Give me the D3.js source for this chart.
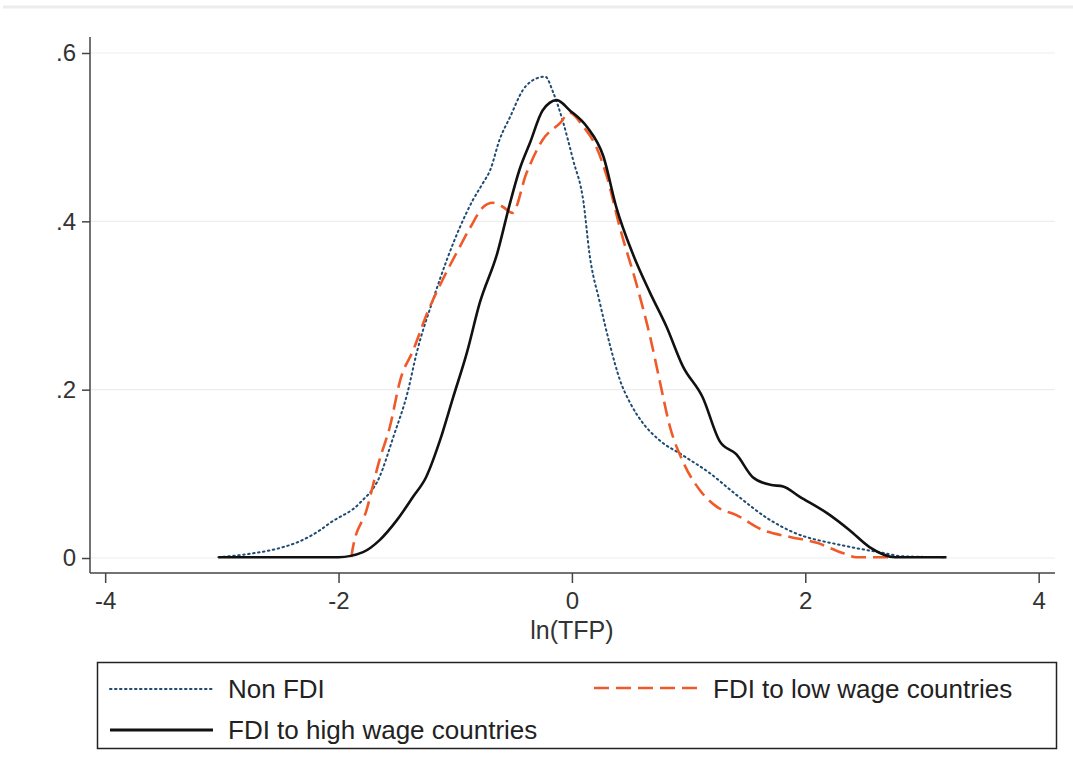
<!DOCTYPE html>
<html><head><meta charset="utf-8">
<script src="https://cdn.jsdelivr.net/npm/d3@7"></script>
<style>
html,body{margin:0;padding:0;background:#fff;}
svg{display:block;font-family:Arial,"Liberation Sans",Helvetica,sans-serif;}
</style></head>
<body>
<script>
// ---- data ----
const xTicks = [-4, -2, 0, 2, 4];
const xTickLabels = ["-4", "-2", "0", "2", "4"];
const yTicks = [0, 0.2, 0.4, 0.6];
const yTickLabels = ["0", ".2", ".4", ".6"];
const xTitle = "ln(TFP)";
const seriesNames = ["Non FDI", "FDI to low wage countries", "FDI to high wage countries"];

const nonFdiX = [-3.03,-2.76,-2.5,-2.33,-2.16,-2.07,-1.82,-1.65,-1.53,-1.41,-1.33,-1.19,-1.07,-0.96,-0.85,-0.76,-0.70,-0.62,-0.53,-0.42,-0.30,-0.23,-0.16,-0.08,0.01,0.10,0.15,0.24,0.33,0.41,0.50,0.61,0.75,0.95,1.18,1.41,1.70,1.89,2.32,2.67,2.84,3.21];
const nonFdiY = [0.001,0.005,0.012,0.02,0.033,0.042,0.065,0.096,0.144,0.196,0.244,0.307,0.355,0.393,0.425,0.446,0.461,0.497,0.524,0.556,0.570,0.572,0.553,0.52,0.473,0.422,0.362,0.303,0.251,0.212,0.184,0.160,0.140,0.122,0.101,0.075,0.045,0.031,0.015,0.006,0.002,0.001];

const lowWageX = [-1.89,-1.88,-1.76,-1.65,-1.56,-1.47,-1.36,-1.24,-1.11,-0.96,-0.87,-0.76,-0.68,-0.59,-0.51,-0.39,-0.25,-0.10,-0.02,0.10,0.21,0.30,0.41,0.56,0.67,0.75,0.84,0.95,1.10,1.24,1.41,1.64,1.87,2.10,2.32,2.44,2.75];
const lowWageY = [0.001,0.01,0.057,0.116,0.156,0.212,0.247,0.291,0.330,0.37,0.393,0.417,0.422,0.417,0.41,0.457,0.497,0.517,0.529,0.512,0.488,0.453,0.393,0.322,0.263,0.212,0.156,0.115,0.08,0.061,0.051,0.033,0.025,0.018,0.006,0.001,0.001];

const highWageX = [-3.03,-2.0,-1.79,-1.65,-1.5,-1.36,-1.25,-1.13,-1.02,-0.9,-0.79,-0.64,-0.53,-0.45,-0.36,-0.25,-0.13,-0.02,0.13,0.27,0.38,0.52,0.67,0.81,0.95,1.12,1.27,1.41,1.55,1.70,1.81,1.95,2.19,2.38,2.55,2.77,3.21];
const highWageY = [0.001,0.001,0.007,0.021,0.045,0.073,0.096,0.14,0.19,0.244,0.303,0.362,0.422,0.461,0.493,0.532,0.544,0.532,0.512,0.477,0.417,0.362,0.315,0.275,0.228,0.191,0.138,0.123,0.096,0.087,0.085,0.073,0.053,0.033,0.013,0.001,0.001];

// ---- drawing ----
const W = 1073, H = 780;
const svg = d3.select("body").append("svg").attr("width", W).attr("height", H);

// top light border
svg.append("line").attr("x1", 3).attr("x2", W).attr("y1", 7).attr("y2", 7)
  .attr("stroke", "#ececec").attr("stroke-width", 3);

const x = d3.scaleLinear().domain([-4.13, 4.14]).range([90, 1055]);
const y = d3.scaleLinear().domain([-0.0178, 0.619]).range([573, 37]);

// gridlines
svg.append("g").selectAll("line").data(yTicks).join("line")
  .attr("x1", 90).attr("x2", 1055)
  .attr("y1", d => y(d)).attr("y2", d => y(d))
  .attr("stroke", "#ededed").attr("stroke-width", 1.2);

// y axis
const yAxis = d3.axisLeft(y).tickValues(yTicks).tickSize(8).tickPadding(6)
  .tickFormat((d, i) => yTickLabels[i]);
const gy = svg.append("g").attr("transform", "translate(90,0)").call(yAxis);
gy.select(".domain").attr("stroke", "#444").attr("stroke-width", 1.5).attr("d", `M0,${y.range()[1]}V${y.range()[0]}`);
gy.selectAll(".tick line").attr("stroke", "#444").attr("stroke-width", 1.5);
gy.selectAll(".tick text").attr("font-size", 24).attr("fill", "#333").attr("font-family", "Arial,'Liberation Sans',sans-serif");

// x axis
const xAxis = d3.axisBottom(x).tickValues(xTicks).tickSize(10).tickPadding(9)
  .tickFormat((d, i) => xTickLabels[i]);
const gx = svg.append("g").attr("transform", "translate(0,573)").call(xAxis);
gx.select(".domain").attr("stroke", "#444").attr("stroke-width", 1.5).attr("d", `M${x.range()[0]},0H${x.range()[1]}`);
gx.selectAll(".tick line").attr("stroke", "#444").attr("stroke-width", 1.5);
gx.selectAll(".tick text").attr("font-size", 24).attr("fill", "#333").attr("font-family", "Arial,'Liberation Sans',sans-serif");

svg.append("text").attr("x", x(0)).attr("y", 639).attr("text-anchor", "middle")
  .attr("font-size", 25).attr("fill", "#333").text(xTitle);

// series
const line = d3.line().x(d => x(d[0])).y(d => y(d[1])).curve(d3.curveMonotoneX);
const zip = (a, b) => a.map((v, i) => [v, b[i]]);

const styles = [
  {stroke: "#1f4a72", width: 2, dash: "1.5,3.5", cap: "round"},
  {stroke: "#f05a28", width: 2.6, dash: "15,7", cap: "butt"},
  {stroke: "#111111", width: 2.6, dash: null, cap: "butt"}
];
const series = [zip(nonFdiX, nonFdiY), zip(lowWageX, lowWageY), zip(highWageX, highWageY)];

series.forEach((s, i) => {
  const st = styles[i];
  svg.append("path").datum(s).attr("d", line)
    .attr("fill", "none").attr("stroke", st.stroke).attr("stroke-width", st.width)
    .attr("stroke-dasharray", st.dash).attr("stroke-linecap", st.cap)
    .attr("stroke-linejoin", "round");
});

// legend
svg.append("rect").attr("x", 97.5).attr("y", 662.5).attr("width", 959).attr("height", 86)
  .attr("fill", "none").attr("stroke", "#222").attr("stroke-width", 1.5);

const legendPos = [
  {lx: 110, ly: 689, tx: 228, ty: 698},
  {lx: 594, ly: 688, tx: 713, ty: 698},
  {lx: 110, ly: 730, tx: 228, ty: 739}
];
legendPos.forEach((p, i) => {
  const st = styles[i];
  svg.append("line").attr("x1", p.lx).attr("x2", p.lx + 103).attr("y1", p.ly).attr("y2", p.ly)
    .attr("stroke", st.stroke).attr("stroke-width", st.width + (i === 2 ? 0.6 : 0))
    .attr("stroke-dasharray", st.dash).attr("stroke-linecap", st.cap);
  svg.append("text").attr("x", p.tx).attr("y", p.ty).attr("font-size", 26).attr("fill", "#222")
    .text(seriesNames[i]);
});
</script>
</body></html>
